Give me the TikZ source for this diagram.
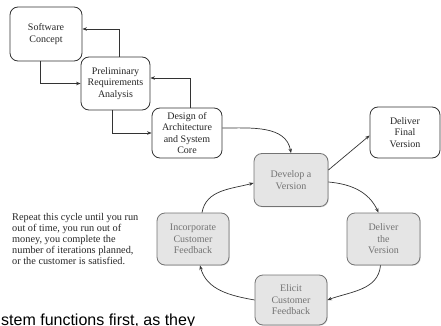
\documentclass[tikz,border=0pt]{standalone}
\usepackage{fontspec}
\setmainfont{Liberation Serif}
\newfontfamily\pagefont{Liberation Sans}
\usetikzlibrary{arrows.meta, shadows}

\begin{document}
\begin{tikzpicture}[x=1pt, y=-1pt]

        % 1. Page size (y runs downwards, one unit per pixel)
        \useasboundingbox (0,0) rectangle (441,326);
        \clip (0,0) rectangle (441,326);

        % 2. Styles for the stages and the arrows
        \tikzset{
            stage/.style={draw=black!80, line width=0.8pt, rounded corners=8pt, fill=white,
                align=center, text=black!85, inner sep=1pt,
                font=\fontsize{10}{11.5}\selectfont},
            loopstage/.style={stage, draw=black!55, fill=black!10, text=black!55,
                drop shadow={opacity=0.25, shadow xshift=0.8pt, shadow yshift=-0.8pt}},
            flow/.style={draw=black!80, line width=0.7pt, -{Stealth[length=4.5pt, width=3.5pt]}}
        }

        % 3. Waterfall stages (top left)
        \node[stage, minimum width=72pt, minimum height=54pt] (concept) at (46,34) {Software\\Concept};
        \node[stage, minimum width=69pt, minimum height=53pt] (prelim) at (115.5,83.5) {Preliminary\\Requirements\\Analysis};
        \node[stage, minimum width=70pt, minimum height=50pt] (design) at (187,133) {Design of\\Architecture\\and System\\Core};

        % 4. The staged delivery cycle
        \node[loopstage, minimum width=74pt, minimum height=53pt] (develop) at (291,180) {Develop a\\Version};
        \node[loopstage, minimum width=73pt, minimum height=52pt] (deliver) at (383.5,239) {Deliver\\the\\Version};
        \node[loopstage, minimum width=72pt, minimum height=50pt] (elicit) at (291,300) {Elicit\\Customer\\Feedback};
        \node[loopstage, minimum width=72pt, minimum height=52pt] (incorp) at (193,239) {Incorporate\\Customer\\Feedback};

        % Final delivery
        \node[stage, minimum width=70pt, minimum height=51pt] (final) at (405,132.5) {Deliver\\Final\\Version};

        % 5. Waterfall arrows (forward and back)
        \draw[flow] ([xshift=-6pt]concept.south) |- (prelim.west);
        \draw[flow] ([xshift=4pt]prelim.north) |- ([yshift=5pt]concept.east);
        \draw[flow] ([xshift=-3.5pt]prelim.south) |- (design.west);
        \draw[flow] ([xshift=3pt]design.north) |- ([yshift=5.5pt]prelim.east);

        % 6. Cycle arrows
        \draw[flow] ([yshift=5pt]design.east) to[out=0, in=100] (develop.north);
        \draw[flow] ([yshift=10pt]develop.east) -- ([yshift=-3pt]final.west);
        \draw[flow] ([yshift=-2pt]develop.east) to[out=-5, in=115] ([xshift=-5pt]deliver.north);
        \draw[flow] ([xshift=-3pt]deliver.south) to[out=-95, in=20] (elicit.east);
        \draw[flow] (elicit.west) to[out=170, in=-75] ([xshift=7pt]incorp.south);
        \draw[flow] ([xshift=9pt]incorp.north) to[out=80, in=195] ([yshift=-3pt]develop.west);

        % 7. Note and the page text below
        \node[anchor=north west, align=left, inner sep=0pt, text=black!85,
            font=\fontsize{10.3}{11}\selectfont] (note) at (12,213)
            {Repeat this cycle until you run\\out of time, you run out of\\money, you complete the\\number of iterations planned,\\or the customer is satisfied.};
        \node[anchor=base west, inner sep=0pt, font=\pagefont\fontsize{16}{18}\selectfont] (pagetext) at (1,325.5)
            {stem functions first, as they};

\end{tikzpicture}
\end{document}
